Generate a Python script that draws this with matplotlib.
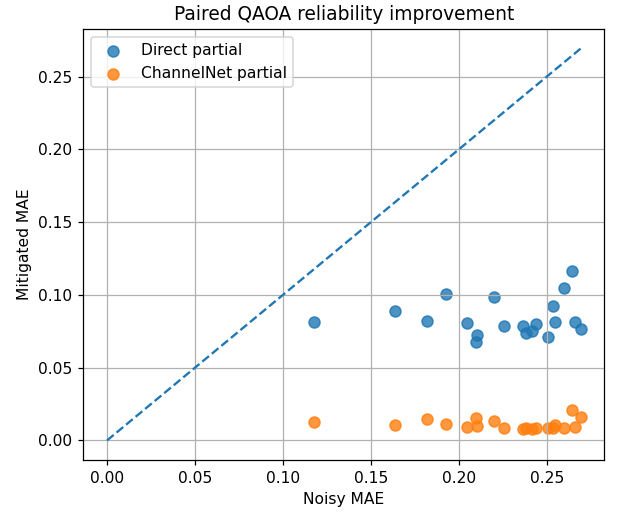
import numpy as np
import matplotlib.pyplot as plt

# paired noisy / mitigated MAE per QAOA instance
noisy = [0.1175, 0.1638, 0.1817, 0.1927, 0.2048, 0.2105, 0.2100, 0.2200, 0.2259, 0.2362,
         0.2379, 0.2415, 0.2437, 0.2506, 0.2536, 0.2544, 0.2595, 0.2641, 0.2658, 0.2692]
direct = [0.0813, 0.0888, 0.0820, 0.1003, 0.0806, 0.0721, 0.0673, 0.0987, 0.0787, 0.0787,
          0.0741, 0.0755, 0.0797, 0.0712, 0.0925, 0.0813, 0.1049, 0.1166, 0.0813, 0.0764]
channelnet = [0.0124, 0.0103, 0.0147, 0.0110, 0.0094, 0.0101, 0.0156, 0.0133, 0.0085, 0.0076,
              0.0083, 0.0076, 0.0085, 0.0085, 0.0085, 0.0105, 0.0085, 0.0211, 0.0094, 0.0163]

DPI = 112
fig, ax = plt.subplots(figsize=(622 / DPI, 514 / DPI), dpi=DPI)
ax.scatter(noisy, direct, s=50, alpha=0.8, label="Direct partial")
ax.scatter(noisy, channelnet, s=50, alpha=0.8, label="ChannelNet partial")

# y = x reference line
lim = max(noisy)
ax.plot([0, lim], [0, lim], linestyle="--")

ax.set_xlabel("Noisy MAE")
ax.set_ylabel("Mitigated MAE")
ax.set_title("Paired QAOA reliability improvement")
ax.legend(loc="upper left")
ax.grid(True)

fig.subplots_adjust(left=0.134, right=0.9716, top=0.9436, bottom=0.105)
fig.savefig("out.png", dpi=DPI)
